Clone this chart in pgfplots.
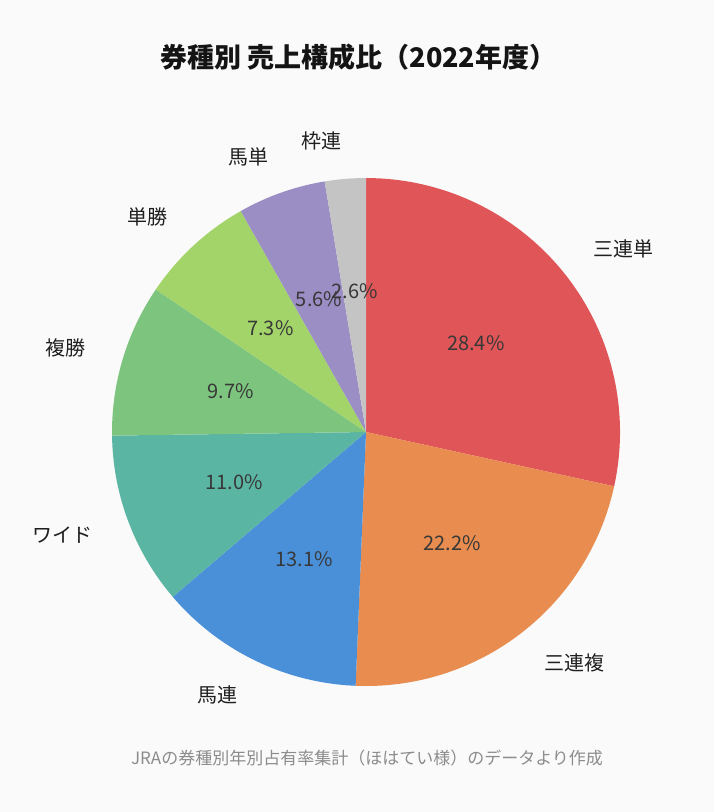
\documentclass[border=0pt]{standalone}
\usepackage{pgfplots}
\usepackage{pgfplotstable}
\pgfplotsset{compat=1.18}
\usepackage{fontspec}
\setmainfont{Noto Sans CJK JP}

\definecolor{bgcol}{HTML}{FAFAFA}
\definecolor{slice0}{HTML}{E05557}
\definecolor{slice1}{HTML}{E88C50}
\definecolor{slice2}{HTML}{4A90D9}
\definecolor{slice3}{HTML}{5BB5A3}
\definecolor{slice4}{HTML}{7DC47E}
\definecolor{slice5}{HTML}{A3D46A}
\definecolor{slice6}{HTML}{9B8EC5}
\definecolor{slice7}{HTML}{C4C4C4}

% share of sales by bet type, 2022
\pgfplotstableread{
label pct
三連単 28.4
三連複 22.2
馬連 13.1
ワイド 11.0
複勝 9.7
単勝 7.3
馬単 5.6
枠連 2.6
}\salesdata

\begin{document}
\begin{tikzpicture}
\fill[bgcol] (0,0) rectangle (357pt,406pt);
\begin{axis}[
  at={(0,0)}, anchor=south west,
  width=357pt, height=406pt, scale only axis,
  xmin=-1.441, xmax=1.370, ymin=-1.496, ymax=1.701,
  hide axis, clip=false,
]
\pgfmathsetmacro{\total}{0}
\pgfplotsforeachungrouped \i in {0,...,7}{%
  \pgfplotstablegetelem{\i}{pct}\of\salesdata
  \pgfmathsetmacro{\total}{\total+\pgfplotsretval}%
}
\pgfmathsetmacro{\start}{90}
\pgfplotsforeachungrouped \i in {0,...,7}{%
  \pgfplotstablegetelem{\i}{pct}\of\salesdata \let\p\pgfplotsretval
  \pgfplotstablegetelem{\i}{label}\of\salesdata \let\lab\pgfplotsretval
  \pgfmathsetmacro{\stop}{\start-360*\p/\total}%
  \pgfmathsetmacro{\mid}{(\start+\stop)/2}%
  \pgfmathsetmacro{\px}{0.555*cos(\mid)}%
  \pgfmathsetmacro{\py}{0.555*sin(\mid)}%
  \pgfmathsetmacro{\lx}{1.15*cos(\mid)}%
  \pgfmathsetmacro{\ly}{1.15*sin(\mid)}%
  \pgfmathparse{cos(\mid)>0 ? "west" : "east"}\let\anc\pgfmathresult
  \edef\cmd{%
    \noexpand\addplot[fill=slice\i, draw=none, domain=\stop:\start, samples=80]
      ({cos(x)},{sin(x)}) -- (axis cs:0,0) -- cycle;
    \noexpand\node[text=black!78, font=\noexpand\fontsize{10}{12}\noexpand\selectfont]
      at (axis cs:\px,\py) {\p\noexpand\%};
    \noexpand\node[anchor=\anc, text=black!88, font=\noexpand\fontsize{10}{12}\noexpand\selectfont, inner sep=0pt]
      at (axis cs:\lx,\ly) {\lab};
  }%
  \cmd
  \global\let\start\stop
}
\node[font=\bfseries\fontsize{13.5}{16}\selectfont, text=black!92] at (axis cs:-0.03,1.476) {券種別 売上構成比（2022年度）};
\node[font=\fontsize{8.5}{10}\selectfont, text=black!45] at (axis cs:0.004,-1.283) {JRAの券種別年別占有率集計（ほはてい様）のデータより作成};
\end{axis}
\end{tikzpicture}
\end{document}
